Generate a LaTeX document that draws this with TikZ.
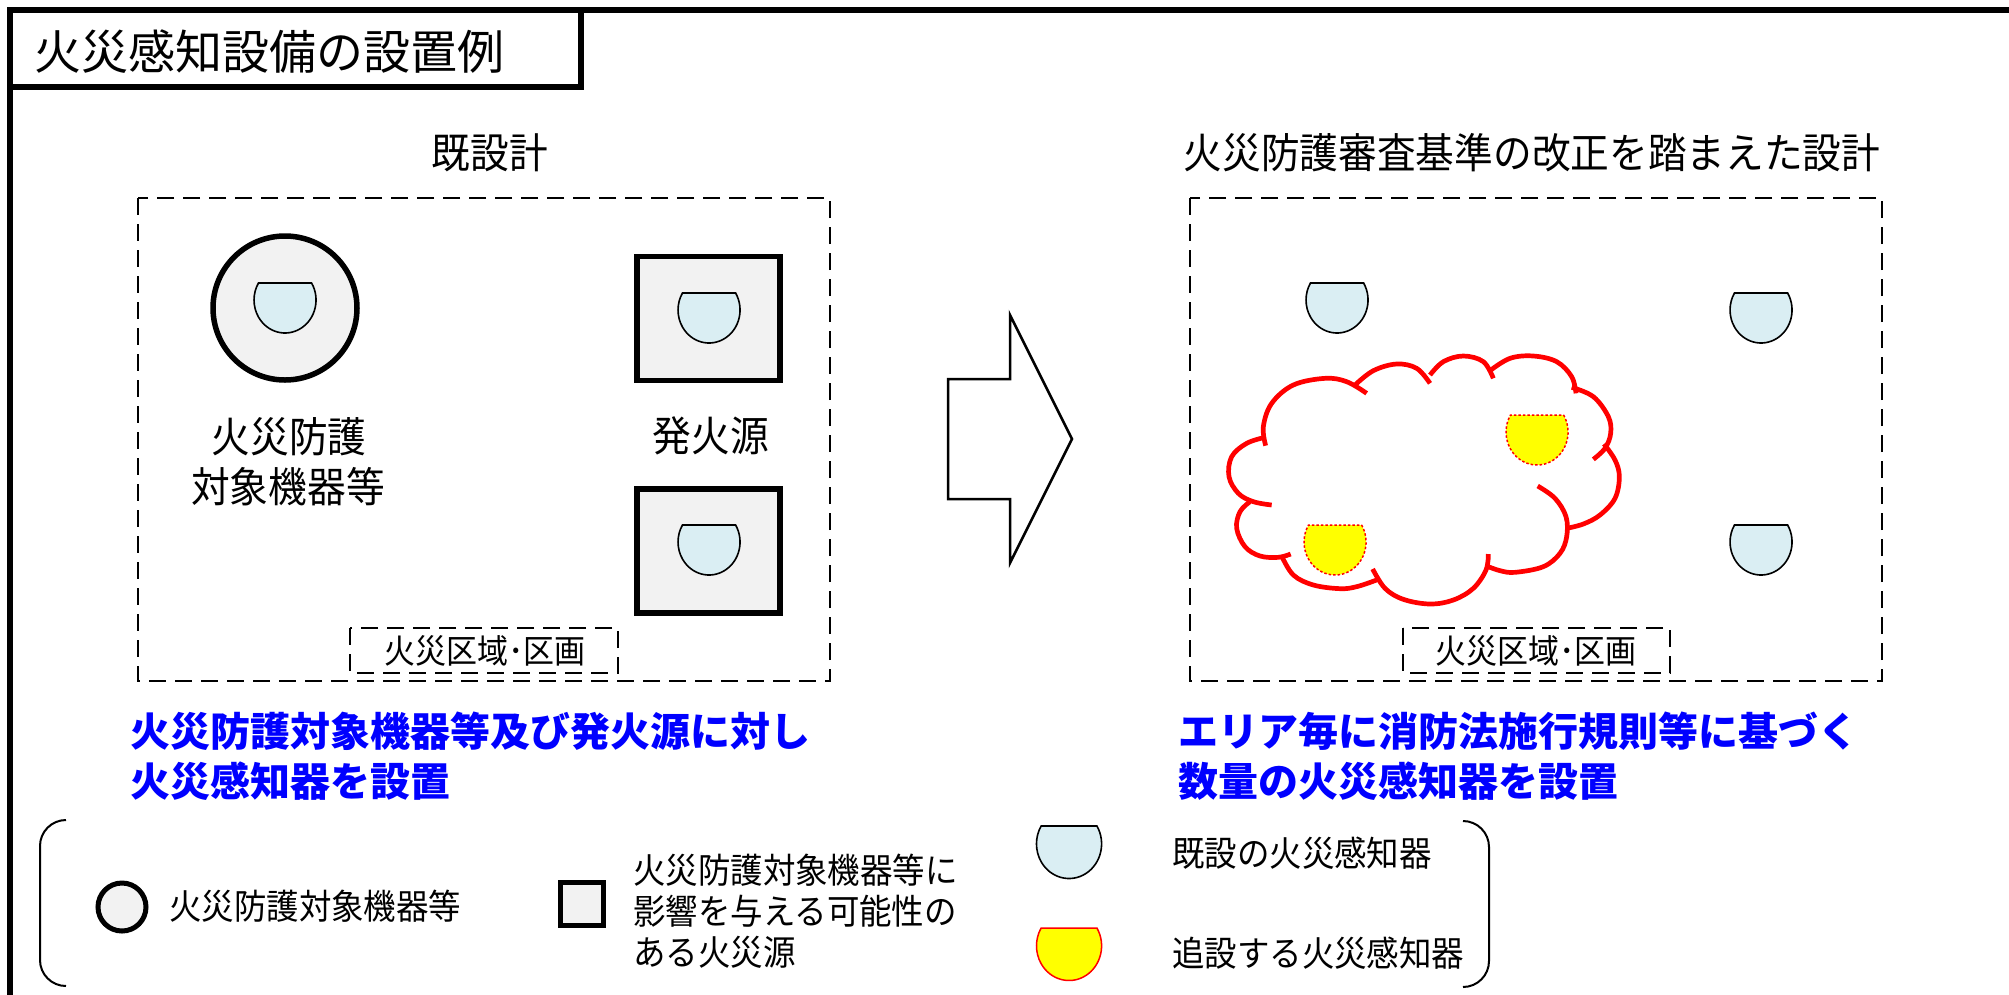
\documentclass[tikz,border=0pt]{standalone}
\usepackage{fontspec}
\setmainfont{Noto Sans CJK JP}
\newfontfamily\jpn{Noto Sans CJK JP}[FakeStretch=0.93]
\definecolor{lgray}{RGB}{242,242,242}
\definecolor{lblue}{RGB}{218,238,243}
\definecolor{tblue}{RGB}{0,0,255}
\definecolor{cred}{RGB}{255,0,0}
\definecolor{cyel}{RGB}{255,255,0}
\begin{document}
\begin{tikzpicture}[x=1pt,y=-1pt,
  frameline/.style={line width=5.5pt},
  dbox/.style={line width=2pt, dash pattern=on 17pt off 9pt},
  equip/.style={draw, line width=5.5pt, fill=lgray},
  det/.pic={\path[pic actions] (26.6,0) arc[start angle=-31,end angle=211,x radius=31,y radius=33] -- cycle;},
  olddet/.style={fill=lblue, draw=black, line width=1.6pt},
  newdet/.style={fill=cyel, draw=cred, line width=1.5pt, dash pattern=on 2.5pt off 2pt},
  legnew/.style={fill=cyel, draw=cred, line width=1.5pt},
  cloudline/.style={draw=cred, line width=4.7pt, smooth, tension=0.6},
  txt/.style={inner sep=0pt, font=\jpn\fontsize{41.6}{48}\selectfont},
  small/.style={inner sep=0pt, font=\jpn\fontsize{33.3}{38}\selectfont},
  leg/.style={inner sep=0pt, anchor=west, font=\jpn\fontsize{34.9}{42}\selectfont},
  btxt/.style={inner sep=0pt, anchor=west, text=tblue, font=\bfseries\fontsize{40}{48}\selectfont},
  bracket/.style={line width=2pt}
]
\useasboundingbox (0,0) rectangle (2009,994);
% outer frame and title
\draw[frameline] (10,1000) -- (10,10) -- (2015,10);
\draw[frameline] (10,10) rectangle (581,87);
\node[inner sep=0pt, anchor=west, font=\fontsize{47}{54}\selectfont] (title) at (34,52) {火災感知設備の設置例};

% headings
\node[txt] (h1) at (490,153) {既設計};
\node[txt] (h2) at (1532,153) {火災防護審査基準の改正を踏まえた設計};

% left panel
\draw[dbox] (138,198) rectangle (830,681);
\node[equip, circle, minimum size=144pt, inner sep=0pt] (eqc) at (285,308) {};
\node[equip, rectangle, minimum width=143pt, minimum height=124pt, inner sep=0pt] (sq1) at (708.5,318.5) {};
\node[equip, rectangle, minimum width=143pt, minimum height=124pt, inner sep=0pt] (sq2) at (708.5,551) {};
\pic[olddet] at (285,283) {det};
\pic[olddet] at (709,293) {det};
\pic[olddet] at (709,525) {det};
\node[txt] (t1) at (289,437) {火災防護};
\node[txt] (t2) at (288,487) {対象機器等};
\node[txt] (t3) at (711,436) {発火源};
\draw[dbox] (350,628) rectangle (618,673);
\node[small] (z1) at (485,651) {火災区域･区画};

% arrow
\draw[line width=2.5pt, fill=white] (948,379) -- (1010,379) -- (1010,315) -- (1072,439) -- (1010,563) -- (1010,499) -- (948,499) -- cycle;

% right panel
\draw[dbox] (1190,198) rectangle (1882,681);
\draw[dbox] (1403,628) rectangle (1670,673);
\node[small] (z2) at (1536,651) {火災区域･区画};
\pic[olddet] at (1337,283) {det};
\pic[olddet] at (1761,293) {det};
\pic[olddet] at (1761,525) {det};
\begin{scope}[shift={(1200,350)}, x=0.33333pt, y=-0.33333pt]
  \draw[cloudline] plot coordinates {(197,287) (190,230) (215,160) (280,105) (375,85) (440,95) (500,130)};
  \draw[cloudline] plot coordinates {(465,105) (520,62) (590,42) (650,55) (690,100)};
  \draw[cloudline] plot coordinates {(690,75) (730,35) (790,18) (850,35) (880,85)};
  \draw[cloudline] plot coordinates {(870,62) (930,25) (1000,18) (1070,35) (1115,80) (1128,130)};
  \draw[cloudline] plot coordinates {(1115,112) (1180,140) (1225,200) (1232,250) (1215,295) (1180,328)};
  \draw[cloudline] plot coordinates {(1212,282) (1245,330) (1258,380) (1245,445) (1200,495) (1150,522) (1100,535)};
  \draw[cloudline] plot coordinates {(1013,408) (1065,445) (1098,500) (1100,560) (1080,610) (1030,650) (945,667) (900,662) (860,648)};
  \draw[cloudline] plot coordinates {(865,612) (858,660) (820,715) (760,750) (690,762) (610,748) (555,715) (518,657)};
  \draw[cloudline] plot coordinates {(530,690) (470,710) (420,716) (340,705) (280,675) (245,618)};
  \draw[cloudline] plot coordinates {(272,612) (235,622) (180,618) (135,590) (110,535) (120,485) (150,455)};
  \draw[cloudline] plot coordinates {(215,465) (160,455) (115,430) (87,380) (95,320) (140,280) (195,262)};
\end{scope}
\pic[newdet] at (1537,415) {det};
\pic[newdet] at (1335,525) {det};

% blue captions
\node[btxt] (b1) at (130,731) {火災防護対象機器等及び発火源に対し};
\node[btxt] (b2) at (130,781) {火災感知器を設置};
\node[btxt] (b3) at (1178,731) {エリア毎に消防法施行規則等に基づく};
\node[btxt] (b4) at (1178,781) {数量の火災感知器を設置};

% legend
\draw[bracket] (66,820) arc[start angle=-90, end angle=-180, radius=26] -- (40,960) arc[start angle=180, end angle=90, radius=26];
\draw[bracket] (1463,821) arc[start angle=-90, end angle=0, radius=26] -- (1489,961) arc[start angle=0, end angle=90, radius=26];
\node[equip, circle, minimum size=48pt, inner sep=0pt, line width=5pt] (lc) at (122,907) {};
\node[leg] (l1) at (169,906) {火災防護対象機器等};
\node[equip, rectangle, minimum size=43pt, inner sep=0pt, line width=5pt] (ls) at (582,904) {};
\node[leg] (l2) at (633,870) {火災防護対象機器等に};
\node[leg] (l3) at (633,911) {影響を与える可能性の};
\node[leg] (l4) at (633,952) {ある火災源};
\pic[olddet, scale=1.05] at (1069,826) {det};
\pic[legnew, scale=1.05] at (1069,928) {det};
\node[leg] (l5) at (1172,853) {既設の火災感知器};
\node[leg] (l6) at (1172,953) {追設する火災感知器};
\end{tikzpicture}
\end{document}
